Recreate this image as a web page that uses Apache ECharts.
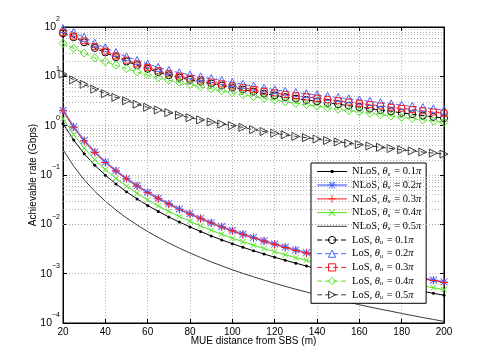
<!DOCTYPE html>
<html>
<head>
<meta charset="utf-8">
<script src="https://cdn.jsdelivr.net/npm/echarts@6/dist/echarts.min.js"></script>
<style>
  html, body { margin: 0; padding: 0; background: #fff; }
  #main { width: 491px; height: 364px; }
</style>
</head>
<body>
<div id="main"></div>
<script>
// distance from SBS (m)
const distance = [20, 25, 30, 35, 40, 45, 50, 55, 60, 65, 70, 75, 80, 85, 90, 95, 100, 105, 110, 115,
  120, 125, 130, 135, 140, 145, 150, 155, 160, 165, 170, 175, 180, 185, 190, 195, 200];

const thetaLabels = ['0.1', '0.2', '0.3', '0.4', '0.5'];

// NLoS rates (Gbps)
const nlos01 = [1.11, 0.513, 0.270, 0.158, 0.0994, 0.0659, 0.0456, 0.0327, 0.0241, 0.0183, 0.0141, 0.0111, 0.00886,
  0.00718, 0.00583, 0.00484, 0.00405, 0.00342, 0.00292, 0.00250, 0.00215, 0.00187, 0.00163, 0.00143, 0.00126,
  0.00112, 0.000994, 0.000886, 0.000794, 0.000713, 0.000643, 0.000583, 0.000528, 0.000480, 0.000437, 0.000400, 0.000366];
const nlos02 = [2.05, 0.95, 0.50, 0.292, 0.184, 0.122, 0.0845, 0.0605, 0.0447, 0.0338, 0.0261, 0.0205, 0.0164,
  0.0133, 0.0108, 0.00897, 0.00750, 0.00634, 0.00540, 0.00463, 0.00399, 0.00346, 0.00302, 0.00265, 0.00234,
  0.00207, 0.00184, 0.00164, 0.00147, 0.00132, 0.00119, 0.00108, 0.000977, 0.000888, 0.000809, 0.000740, 0.000678];
const nlos03 = [2.01, 0.931, 0.490, 0.286, 0.180, 0.120, 0.0828, 0.0593, 0.0438, 0.0331, 0.0256, 0.0201, 0.0161,
  0.0130, 0.0106, 0.00879, 0.00735, 0.00621, 0.00529, 0.00454, 0.00391, 0.00339, 0.00296, 0.00260, 0.00229,
  0.00203, 0.00180, 0.00161, 0.00144, 0.00129, 0.00117, 0.00106, 0.000957, 0.000870, 0.000793, 0.000725, 0.000664];
const nlos04 = [1.40, 0.665, 0.350, 0.204, 0.129, 0.0854, 0.0592, 0.0424, 0.0313, 0.0237, 0.0183, 0.0144, 0.0115,
  0.00931, 0.00756, 0.00628, 0.00525, 0.00444, 0.00378, 0.00324, 0.00279, 0.00242, 0.00211, 0.00186, 0.00164,
  0.00145, 0.00129, 0.00115, 0.00103, 0.000924, 0.000833, 0.000756, 0.000684, 0.000622, 0.000566, 0.000518, 0.000475];
const nlos05 = [0.328, 0.152, 0.080, 0.0467, 0.0294, 0.0195, 0.0135, 0.00968, 0.00715, 0.00541, 0.00418, 0.00328, 0.00262,
  0.00213, 0.00173, 0.00144, 0.00120, 0.00101, 0.000864, 0.000741, 0.000638, 0.000554, 0.000483, 0.000424, 0.000374,
  0.000331, 0.000294, 0.000262, 0.000235, 0.000211, 0.000190, 0.000173, 0.000156, 0.000142, 0.000129, 0.000118, 0.000108];

// LoS rates (Gbps)
const los01 = [74.5, 62, 49, 37.5, 30.5, 24.5, 20, 16.8, 14.2, 12.1, 10.5, 9.4, 8.5, 7.8, 7.15, 6.5, 5.9, 5.4, 4.9, 4.48,
  4.1, 3.8, 3.55, 3.33, 3.1, 2.9, 2.72, 2.54, 2.38, 2.22, 2.08, 1.95, 1.82, 1.71, 1.6, 1.51, 1.42];
const los02 = [93, 78, 62, 47, 38, 30.5, 25, 21, 17.8, 15.2, 13.2, 11.8, 10.7, 9.8, 9.0, 8.2, 7.5, 6.9, 6.3, 5.8,
  5.35, 5.0, 4.7, 4.45, 4.2, 3.95, 3.72, 3.5, 3.3, 3.1, 2.92, 2.76, 2.6, 2.46, 2.32, 2.2, 2.08];
const los03 = [77, 65.5, 52.5, 40, 32.5, 26, 21.3, 17.9, 15.2, 13, 11.3, 10.1, 9.15, 8.4, 7.7, 7.0, 6.4, 5.9, 5.4, 4.97,
  4.6, 4.3, 4.04, 3.83, 3.61, 3.4, 3.2, 3.01, 2.84, 2.67, 2.51, 2.37, 2.24, 2.12, 2.0, 1.89, 1.79];
const los04 = [46.5, 37, 29.5, 23.5, 19.8, 16.8, 14.3, 12.3, 10.6, 9.4, 8.35, 7.5, 6.8, 6.15, 5.6, 5.1, 4.65, 4.25, 3.9, 3.58,
  3.3, 3.06, 2.85, 2.66, 2.48, 2.3, 2.15, 2.02, 1.9, 1.78, 1.67, 1.57, 1.48, 1.39, 1.31, 1.24, 1.17];
const los05 = [11.1, 8.5, 6.9, 5.5, 4.45, 3.75, 3.2, 2.72, 2.36, 2.08, 1.84, 1.63, 1.45, 1.31, 1.19, 1.08, 1.0, 0.925, 0.83, 0.76,
  0.70, 0.65, 0.605, 0.57, 0.535, 0.50, 0.468, 0.44, 0.413, 0.388, 0.365, 0.344, 0.325, 0.308, 0.292, 0.278, 0.265];

// minor log grid values (2..9 per decade)
const minorGrid = [];
for (let k = -4; k < 2; k++) {
  for (let m = 2; m <= 9; m++) minorGrid.push(m * Math.pow(10, k));
}

const starPath = 'path://M4.4,0h1.2v10h-1.2z M0,4.4h10v1.2h-10z M1.1,0.25L9.75,8.9L8.9,9.75L0.25,1.1z M8.9,0.25L9.75,1.1L1.1,9.75L0.25,8.9z';
const plusPath = 'path://M4.4,0h1.2v10h-1.2z M0,4.4h10v1.2h-10z';
const crossPath = 'path://M0.85,0L10,9.15L9.15,10L0,0.85z M9.15,0L10,0.85L0.85,10L0,9.15z';
const dotLinePath = 'path://M0,1.1h30v0.8h-30z M13.6,0h2.8v3h-2.8z';

const blue = '#4a64ff';
const red = '#ff1a1a';
const green = '#4ee51c';
const gray = '#3a3a3a';

function mk(name, values, o) {
  return {
    name: name,
    type: 'line',
    data: distance.map((d, i) => [d, values[i]]),
    symbol: o.symbol || 'none',
    symbolSize: o.size || 6,
    symbolRotate: o.rotate || 0,
    showSymbol: !!o.symbol,
    lineStyle: { color: o.line, width: o.width || 1, type: o.dash ? [5, 3] : 'solid' },
    itemStyle: o.open
      ? { color: 'rgba(255,255,255,0)', borderColor: o.color, borderWidth: 1 }
      : { color: o.color, borderWidth: 0 },
    emphasis: { disabled: true },
    z: 3
  };
}

const names = [];
thetaLabels.forEach(t => names.push('NLoS, ' + t));
thetaLabels.forEach(t => names.push('LoS, ' + t));

const series = [
  mk(names[0], nlos01, { symbol: 'circle', size: 3, color: '#000', line: '#000' }),
  mk(names[1], nlos02, { symbol: starPath, size: 8, color: blue, line: '#8d9cff', width: 2.2 }),
  mk(names[2], nlos03, { symbol: plusPath, size: 8, color: red, line: red }),
  mk(names[3], nlos04, { symbol: crossPath, size: 6, color: green, line: green }),
  mk(names[4], nlos05, { color: gray, line: gray }),
  mk(names[5], los01, { symbol: 'circle', size: 7, color: '#000', line: '#000', dash: true, open: true }),
  mk(names[6], los02, { symbol: 'triangle', size: 8, color: blue, line: blue, dash: true, open: true }),
  mk(names[7], los03, { symbol: 'rect', size: 6, color: red, line: red, dash: true, open: true }),
  mk(names[8], los04, { symbol: 'diamond', size: 8, color: green, line: green, dash: true, open: true }),
  mk(names[9], los05, { symbol: 'triangle', size: 8, rotate: -90, color: gray, line: gray, dash: true, open: true }),
  {
    type: 'line', data: [], silent: true,
    markLine: {
      silent: true, symbol: ['none', 'none'], label: { show: false },
      lineStyle: { color: '#9a9a9a', type: [1, 2], width: 0.8 },
      data: minorGrid.map(v => ({ yAxis: v })),
      animation: false
    },
    z: 1
  }
];

const legendData = names.map((n, i) => {
  const item = { name: n, lineStyle: { width: i === 1 ? 2.2 : 1 }, itemStyle: { borderWidth: i >= 5 ? 1 : 0 } };
  if (i === 0) item.icon = dotLinePath;
  if (i === 4) item.itemStyle = { color: 'rgba(0,0,0,0)', borderWidth: 0 };
  return item;
});

const sans = 'Liberation Sans, Arial, sans-serif';
const serif = 'Liberation Serif, Times New Roman, serif';

const chart = echarts.init(document.getElementById('main'));
chart.setOption({
  animation: false,
  backgroundColor: '#fff',
  grid: { left: 63, right: 47, top: 27, bottom: 41, show: true, borderColor: '#000', borderWidth: 1 },
  xAxis: [{
    type: 'value', min: 20, max: 200, interval: 20,
    name: 'MUE distance from SBS (m)', nameLocation: 'middle', nameGap: 13, nameMoveOverlap: false,
    nameTextStyle: { fontFamily: sans, fontSize: 10, color: '#000' },
    axisLine: { lineStyle: { color: '#000', width: 1 } },
    axisTick: { inside: true, length: 4, lineStyle: { color: '#000' } },
    axisLabel: { fontFamily: sans, fontSize: 10, color: '#000', margin: 4 },
    splitLine: { show: true, lineStyle: { color: '#9a9a9a', type: [1, 2], width: 0.8 } }
  }, {
    type: 'value', min: 20, max: 200, interval: 20, position: 'top',
    axisLine: { lineStyle: { color: '#000', width: 1 } },
    axisTick: { inside: true, length: 4, lineStyle: { color: '#000' } },
    axisLabel: { show: false }, splitLine: { show: false }
  }],
  yAxis: [{
    type: 'log', logBase: 10, min: 0.0001, max: 100, splitNumber: 6,
    name: 'Achievable rate (Gbps)', nameLocation: 'middle', nameGap: 25, nameMoveOverlap: false,
    nameTextStyle: { fontFamily: sans, fontSize: 10, color: '#000' },
    axisLine: { lineStyle: { color: '#000', width: 1 } },
    axisTick: { inside: true, length: 4, lineStyle: { color: '#000' } },
    axisLabel: {
      margin: 3,
      formatter: v => {
        const e = Math.round(Math.log10(v));
        return '{b|10}{e|' + (e < 0 ? '\u2212' + (-e) : e) + '}';
      },
      rich: {
        b: { fontFamily: sans, fontSize: 10.5, color: '#000' },
        e: { fontFamily: sans, fontSize: 7, color: '#000', padding: [0, 0, 15, 0] }
      }
    },
    splitLine: { show: true, lineStyle: { color: '#9a9a9a', type: [1, 2], width: 0.8 } }
  }, {
    type: 'log', logBase: 10, min: 0.0001, max: 100, splitNumber: 6, position: 'right',
    axisLine: { lineStyle: { color: '#000', width: 1 } },
    axisTick: { inside: true, length: 4, lineStyle: { color: '#000' } },
    axisLabel: { show: false }, splitLine: { show: false }
  }],
  legend: {
    orient: 'vertical', left: 311, top: 163,
    data: legendData,
    backgroundColor: '#fff', borderColor: '#000', borderWidth: 1,
    padding: [3, 5, 3, 5],
    itemWidth: 30, itemHeight: 9, itemGap: 2.7,
    formatter: name => {
      const parts = name.split(', ');
      return '{a|' + parts[0] + ', }{i|\u03b8}{s|u}{a| = ' + parts[1] + '}{i|\u03c0}';
    },
    textStyle: {
      rich: {
        a: { fontFamily: serif, fontSize: 10.5, color: '#000', lineHeight: 11 },
        i: { fontFamily: serif, fontSize: 10.5, fontStyle: 'italic', color: '#000', lineHeight: 11 },
        s: { fontFamily: serif, fontSize: 6, fontStyle: 'italic', color: '#000', padding: [5, 1, 0, 0], lineHeight: 11 }
      }
    }
  },
  series: series
});
</script>
</body>
</html>
